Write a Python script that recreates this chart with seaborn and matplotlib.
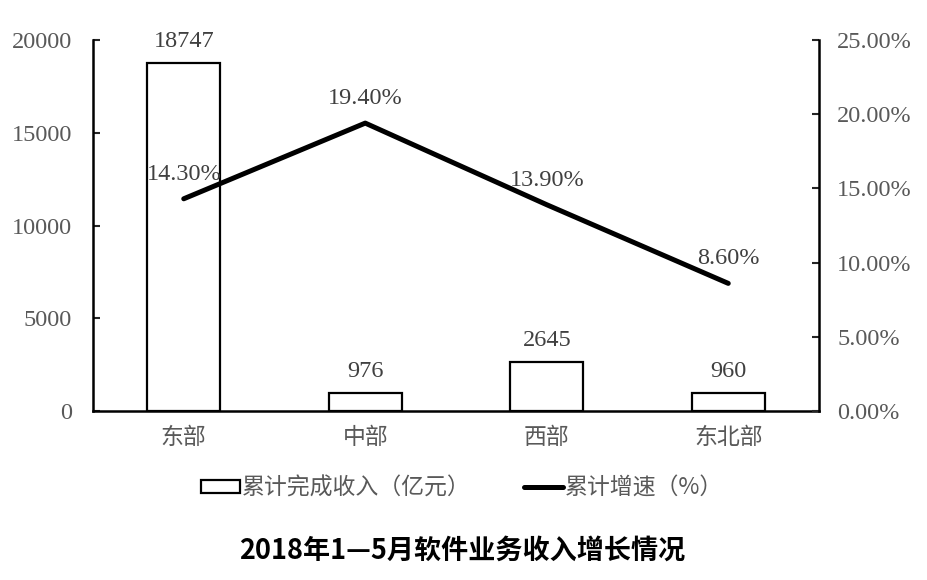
#!/usr/bin/env python3

import numpy as np
import seaborn as sns
import matplotlib.pyplot as plt
from matplotlib.patches import Patch
from matplotlib.lines import Line2D
from matplotlib.ticker import FuncFormatter

regions = ['东部', '中部', '西部', '东北部']
income = [18747, 976, 2645, 960]
growth = [14.30, 19.40, 13.90, 8.60]

income_ticks = [0, 5000, 10000, 15000, 20000]
growth_ticks = [0, 5, 10, 15, 20, 25]

bar_label = '累计完成收入（亿元）'
line_label = '累计增速（%）'
title = '2018年1—5月软件业务收入增长情况'

sns.set_style('white')
plt.rcParams['font.family'] = ['Liberation Serif', 'Noto Sans CJK SC']
cjk = ['Noto Sans CJK SC', 'DejaVu Sans']
grey = '#595959'

fig = plt.figure(figsize=(9.28, 5.8), dpi=100)
ax = fig.add_axes([93 / 928, 1 - 411 / 580, 726 / 928, 371 / 580])

sns.barplot(x=regions, y=income, color='white', edgecolor='black',
	linewidth=1.6, width=0.4, saturation=1, ax=ax)
ax.set_xlim(-0.5, 3.5)
ax.set_ylim(0, 20000)
ax.set_yticks(income_ticks)
ax.tick_params(axis='y', direction='in', length=5, width=1.5, pad=15,
	labelsize=17.5, labelcolor=grey)
ax.tick_params(axis='x', length=0, pad=11, labelcolor=grey)
for lab in ax.get_xticklabels():
	lab.set_fontfamily(cjk)
	lab.set_fontsize(16.5)
for i, v in enumerate(income):
	ax.annotate(str(v), (i, v), xytext=(0, 8), textcoords='offset points',
		ha='center', va='bottom', fontsize=17.5, color='#404040')

ax2 = ax.twinx()
sns.lineplot(x=np.arange(len(regions)), y=growth, color='black',
	linewidth=3.6, ax=ax2)
ax2.set_ylim(0, 25)
ax2.set_yticks(growth_ticks)
ax2.yaxis.set_major_formatter(FuncFormatter(lambda v, p: f'{v:.2f}%'))
ax2.tick_params(axis='y', direction='in', length=5, width=1.5, pad=13,
	labelsize=17.5, labelcolor=grey)
for i, v in enumerate(growth):
	ax2.annotate(f'{v:.2f}%', (i, v), xytext=(0, 10), textcoords='offset points',
		ha='center', va='bottom', fontsize=17.5, color='#404040')

for a in (ax, ax2):
	a.spines['top'].set_visible(False)
	for s in ('left', 'right', 'bottom'):
		a.spines[s].set_linewidth(1.8)
		a.spines[s].set_color('black')
	a.set_xlabel('')
	a.set_ylabel('')
ax.spines['right'].set_visible(False)
ax2.spines['left'].set_visible(False)
ax2.spines['bottom'].set_visible(False)

handles = [
	Patch(facecolor='white', edgecolor='black', linewidth=1.6),
	Line2D([], [], color='black', linewidth=3.6),
]
leg = fig.legend(handles, [bar_label, line_label], loc='center',
	bbox_to_anchor=(462 / 928, 1 - 488 / 580), ncol=2, frameon=False,
	prop={'family': cjk, 'size': 16.5}, handlelength=1.7,
	handletextpad=0.1, columnspacing=2.3, handleheight=0.5)
for t in leg.get_texts():
	t.set_color(grey)

fig.text(462 / 928, 1 - 551 / 580, title, ha='center', va='center',
	fontsize=19.5, fontweight='bold', family=cjk, color='black')

fig.savefig('out.png', dpi=100)
